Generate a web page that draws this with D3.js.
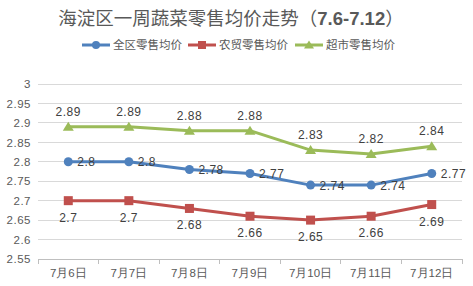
<!DOCTYPE html>
<html><head><meta charset="utf-8">
<script src="https://cdn.jsdelivr.net/npm/d3@7/dist/d3.min.js"></script>
<style>body{margin:0;background:#fff}svg{display:block;font-family:"Noto Sans CJK SC","Liberation Sans",sans-serif}</style>
</head><body><svg id="c" width="473" height="286"></svg>
<script>
const categories = ["7月6日","7月7日","7月8日","7月9日","7月10日","7月11日","7月12日"];
const allDistrict = [2.8,2.8,2.78,2.77,2.74,2.74,2.77];
const farmMarket = [2.7,2.7,2.68,2.66,2.65,2.66,2.69];
const supermarket = [2.89,2.89,2.88,2.88,2.83,2.82,2.84];
const seriesNames = ["全区零售均价","农贸零售均价","超市零售均价"];
const yTicks = [2.55,2.6,2.65,2.7,2.75,2.8,2.85,2.9,2.95,3];

const svg = d3.select("#c");
const x = d3.scaleBand().domain(categories).range([38,462]);
const y = d3.scaleLinear().domain([2.55,3]).range([259,84]);
const colors = ["#4F81BD","#C0504D","#9BBB59"];
const series = [allDistrict, farmMarket, supermarket];

// title
const t = svg.append("text").attr("x",231).attr("y",25).attr("text-anchor","middle")
  .attr("font-size",18.5).attr("fill","#595959");
t.append("tspan").text("海淀区一周蔬菜零售均价走势（");
t.append("tspan").attr("font-weight","bold").attr("font-family","Liberation Sans, sans-serif").text("7.6-7.12");
t.append("tspan").text("）");

// grid
svg.append("g").selectAll("line").data(yTicks.slice(1)).join("line")
  .attr("x1",38).attr("x2",462).attr("y1",d=>y(d)).attr("y2",d=>y(d))
  .attr("stroke","#D9D9D9").attr("stroke-width",1).attr("shape-rendering","crispEdges");

// y axis labels
const yAxis = svg.append("g").attr("transform","translate(31,0)")
  .call(d3.axisLeft(y).tickValues(yTicks).tickSize(0).tickFormat(d=>d3.format("")(+d.toFixed(2))));
yAxis.select(".domain").remove();
yAxis.selectAll("text").attr("font-size",11.5).attr("fill","#595959").attr("font-family","Liberation Sans, sans-serif").attr("letter-spacing","0.5px").attr("x",0);

// x axis
const xAxis = svg.append("g").attr("transform",`translate(0,${y(2.55)})`)
  .call(d3.axisBottom(x).tickSize(0).tickPadding(10));
xAxis.select(".domain").attr("stroke","#BFBFBF");
xAxis.selectAll("text").attr("font-size",11.5).attr("fill","#595959");
svg.append("g").selectAll("line").data(d3.range(categories.length+1)).join("line")
  .attr("x1",i=>38+i*x.step()).attr("x2",i=>38+i*x.step())
  .attr("y1",y(2.55)).attr("y2",y(2.55)+5).attr("stroke","#BFBFBF").attr("shape-rendering","crispEdges");

const cx = d=>x(d)+x.bandwidth()/2;
const line = d3.line().x((d,i)=>cx(categories[i])).y(d=>y(d));

series.forEach((s,k)=>{
  svg.append("path").datum(s).attr("d",line).attr("fill","none")
    .attr("stroke",colors[k]).attr("stroke-width",3).attr("stroke-linejoin","round");
});

// markers
svg.append("g").selectAll("circle").data(allDistrict).join("circle")
  .attr("cx",(d,i)=>cx(categories[i])).attr("cy",d=>y(d)).attr("r",4.5).attr("fill",colors[0]);
svg.append("g").selectAll("rect").data(farmMarket).join("rect")
  .attr("x",(d,i)=>cx(categories[i])-4.5).attr("y",d=>y(d)-4.5).attr("width",9).attr("height",9).attr("fill",colors[1]);
svg.append("g").selectAll("path").data(supermarket).join("path")
  .attr("d",(d,i)=>{const px=cx(categories[i]),py=y(d);return `M${px},${py-5}L${px+5.5},${py+4}L${px-5.5},${py+4}Z`;})
  .attr("fill",colors[2]);

// data labels
const lab = (data, dx, dy, anchor)=> svg.append("g").selectAll("text").data(data).join("text")
  .attr("x",(d,i)=>cx(categories[i])+dx).attr("y",d=>y(d)+dy).attr("text-anchor",anchor)
  .attr("font-size",12).attr("fill","#404040").attr("font-family","Liberation Sans, sans-serif")
  .attr("letter-spacing","0.5px").text(d=>d);
lab(allDistrict, 9, 4.5, "start");
lab(farmMarket, 0, 21, "middle");
lab(supermarket, 0, -11, "middle");

// legend
const lg = svg.append("g");
const lx = [82,188,295];
seriesNames.forEach((n,k)=>{
  const g = lg.append("g").attr("transform",`translate(${lx[k]},45)`);
  g.append("line").attr("x1",0).attr("x2",28).attr("stroke",colors[k]).attr("stroke-width",3);
  if(k===0) g.append("circle").attr("cx",14).attr("r",4).attr("fill",colors[k]);
  if(k===1) g.append("rect").attr("x",10).attr("y",-4).attr("width",8).attr("height",8).attr("fill",colors[k]);
  if(k===2) g.append("path").attr("d","M14,-4.5L19,3.5L9,3.5Z").attr("fill",colors[k]);
  g.append("text").attr("x",31).attr("y",4).attr("font-size",11.5).attr("fill","#595959").text(n);
});
</script></body></html>
